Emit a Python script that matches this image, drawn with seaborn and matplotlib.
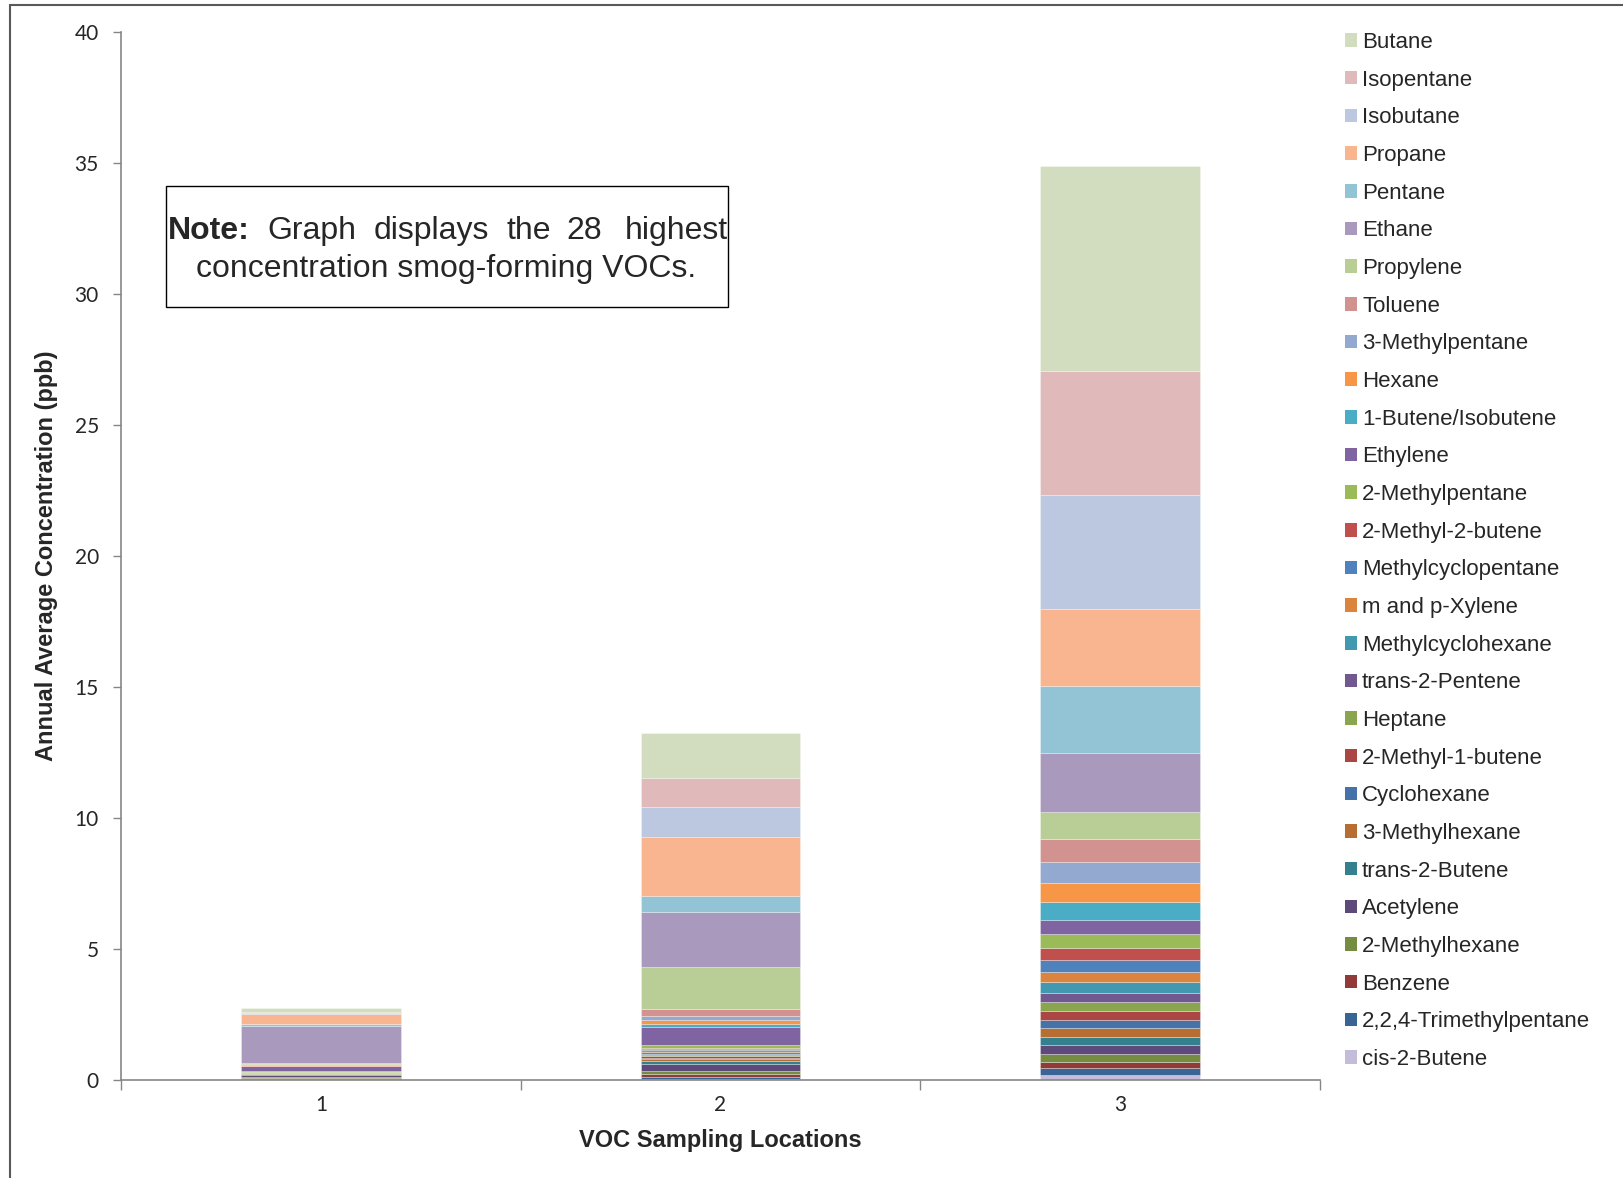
import matplotlib
matplotlib.use("Agg")
import matplotlib.pyplot as plt
import seaborn as sns
import numpy as np
import pandas as pd
from matplotlib.patches import Rectangle, Patch

# ---------------- data (legend order: top of stack first) ----------------
locations = ["1", "2", "3"]
compounds = [
    "Butane", "Isopentane", "Isobutane", "Propane", "Pentane", "Ethane",
    "Propylene", "Toluene", "3-Methylpentane", "Hexane", "1-Butene/Isobutene",
    "Ethylene", "2-Methylpentane", "2-Methyl-2-butene", "Methylcyclopentane",
    "m and p-Xylene", "Methylcyclohexane", "trans-2-Pentene", "Heptane",
    "2-Methyl-1-butene", "Cyclohexane", "3-Methylhexane", "trans-2-Butene",
    "Acetylene", "2-Methylhexane", "Benzene", "2,2,4-Trimethylpentane",
    "cis-2-Butene",
]
loc1 = [0.14, 0.05, 0.04, 0.37, 0.09, 1.39, 0.05, 0.03, 0.02, 0.02, 0.02,
        0.18, 0.03, 0.01, 0.01, 0.02, 0.01, 0.01, 0.01, 0.01, 0.01, 0.01,
        0.01, 0.10, 0.02, 0.04, 0.02, 0.02]
loc2 = [1.73, 1.10, 1.17, 2.24, 0.61, 2.11, 1.59, 0.27, 0.15, 0.15, 0.13,
        0.69, 0.09, 0.05, 0.05, 0.08, 0.05, 0.05, 0.05, 0.05, 0.05, 0.08,
        0.10, 0.29, 0.09, 0.13, 0.06, 0.05]
loc3 = [7.83, 4.74, 4.35, 2.96, 2.53, 2.27, 1.03, 0.87, 0.79, 0.75, 0.69,
        0.53, 0.52, 0.47, 0.43, 0.41, 0.42, 0.33, 0.36, 0.33, 0.32, 0.33,
        0.31, 0.32, 0.31, 0.25, 0.25, 0.20]
colors = [
    "#D1DDBE", "#E0BABA", "#BBC8E0", "#F8B58F", "#93C4D5", "#A99ABD",
    "#B9CD96", "#D19290", "#93A9CF", "#F79646", "#4BACC6", "#8064A2",
    "#9BBB59", "#C0504D", "#4F81BD", "#DB843D", "#4198AF", "#71588F",
    "#89A54E", "#AA4643", "#4572A7", "#B96E31", "#35808F", "#5E4A7A",
    "#758C42", "#903B39", "#3A6495", "#C4BDD9",
]

# ---------------- style ----------------
sns.set_theme(style="white")
plt.rcParams["font.family"] = ["Liberation Sans", "DejaVu Sans"]

fig = plt.figure(figsize=(16.23, 11.78), dpi=100)
ax = fig.add_axes([121 / 1623, 1 - 1080 / 1178, (1320 - 121) / 1623, (1080 - 32) / 1178])

# stack from bottom (last compound in legend) to top
data = np.array([loc1, loc2, loc3])  # shape (3, 28)
bottom = np.zeros(3)
handles = {}
for idx in range(len(compounds) - 1, -1, -1):
    name = compounds[idx]
    vals = data[:, idx]
    sub = pd.DataFrame({"Location": locations, "Value": vals})
    sns.barplot(data=sub, x="Location", y="Value", bottom=bottom, color=colors[idx],
                width=0.4, edgecolor=(1, 1, 1, 0.35), linewidth=0.6, ax=ax,
                saturation=1, errorbar=None)
    handles[name] = Patch(facecolor=colors[idx], edgecolor="none", label=name)
    bottom = bottom + vals

ax.set_xlim(-0.5, 2.5)
ax.set_ylim(0, 40)
ax.set_yticks(np.arange(0, 41, 5))
ax.set_yticklabels([str(v) for v in range(0, 41, 5)], family=["Lato", "DejaVu Sans"], fontsize=15)
ax.set_xticks([-0.5, 0.5, 1.5, 2.5])
ax.set_xticklabels([])
ax.set_xticks([0, 1, 2], minor=True)
ax.set_xticklabels(locations, minor=True, family=["Lato", "DejaVu Sans"], fontsize=15)
ax.tick_params(axis="x", which="major", length=7, color="#868686", width=1, direction="out", bottom=True)
ax.tick_params(axis="x", which="minor", length=0, pad=11, bottom=True)
ax.tick_params(axis="y", which="major", length=6, color="#868686", width=1, direction="out", pad=10, left=True)

for s in ["top", "right"]:
    ax.spines[s].set_visible(False)
for s in ["left", "bottom"]:
    ax.spines[s].set_color("#868686")
    ax.spines[s].set_linewidth(1.2)
ax.grid(False)

ax.set_xlabel("VOC Sampling Locations", fontsize=17, fontweight="bold", labelpad=10)
ax.set_ylabel("Annual Average Concentration (ppb)", fontsize=17, fontweight="bold", labelpad=12)

# legend (top of stack first)
fig.legend(handles=[handles[n] for n in compounds], loc="upper left",
           bbox_to_anchor=(1345 / 1623, 1 - 32 / 1178), frameon=False,
           fontsize=16, handlelength=0.55, handleheight=0.55, handletextpad=0.22,
           labelspacing=0.75, borderpad=0, borderaxespad=0)

# note box
fig.patches.append(Rectangle((166 / 1623, 1 - 307 / 1178), 562 / 1623, 121 / 1178,
                             transform=fig.transFigure, fill=False, edgecolor="black",
                             linewidth=1.0))
y1 = 1 - 231 / 1178
words = [("Note:", 168, "left", "bold"), ("Graph", 267, "left", "normal"),
         ("displays", 374, "left", "normal"), ("the", 506, "left", "normal"),
         ("28", 566, "left", "normal"), ("highest", 728, "right", "normal")]
for w, xp, ha, fw in words:
    fig.text(xp / 1623, y1, w, ha=ha, va="center", fontsize=23, fontweight=fw)
fig.text(446 / 1623, 1 - 269 / 1178, "concentration smog-forming VOCs.", ha="center",
         va="center", fontsize=23)

# outer chart border
fig.patches.append(Rectangle((10 / 1623, -0.1), 1.2, 1 - 5 / 1178 + 0.1,
                             transform=fig.transFigure, fill=False, edgecolor="#595959",
                             linewidth=1.5))

fig.savefig("out.png", dpi=100)
